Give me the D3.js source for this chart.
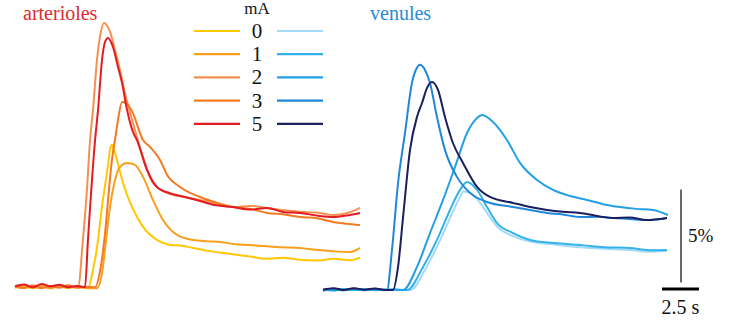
<!DOCTYPE html>
<html>
<head>
<meta charset="utf-8">
<script src="https://cdn.jsdelivr.net/npm/d3@7"></script>
<style>
  html, body { margin: 0; padding: 0; background: #fff; }
  svg { display: block; }
</style>
</head>
<body>
<div id="chart"></div>
<script>
// time in s, response in %
const legendLabels = ["0", "1", "2", "3", "5"];
const arterioleColors = ["#ffc800", "#f8a01c", "#f59050", "#f47a22", "#e31b23"];
const venuleColors = ["#a3daf6", "#35b1ea", "#23a0e6", "#1f86da", "#1b1f5c"];

// arterioles
const art0 = [[0,0.12],[0.6,0.2],[1.2,0.1],[1.8,0.22],[2.4,0.12],[3,0.2],[3.6,0.1],[4.2,0.18],[4.93,0.1],[5.3,1.2],[5.61,2.69],[5.74,3.6],[5.95,4.9],[6.08,5.6],[6.25,6.5],[6.42,7.53],[6.55,7.8],[6.7,7.5],[6.89,6.99],[7.3,5.75],[7.91,4.46],[8.65,3.39],[9.59,2.69],[10.47,2.42],[11.3,2.38],[12.03,2.26],[12.9,2.12],[13.8,2.02],[14.73,1.92],[15.88,1.8],[17.0,1.68],[18.1,1.74],[19.26,1.62],[20.4,1.58],[21.5,1.68],[22.64,1.6],[23.31,1.74]];
const art1 = [[0,0.15],[0.6,0.25],[1.2,0.12],[1.8,0.2],[2.4,0.1],[3,0.22],[3.6,0.12],[4.2,0.2],[4.9,0.1],[5.54,0.1],[5.9,1.0],[6.1,2.3],[6.42,4.46],[6.76,5.91],[7.09,6.61],[7.57,6.83],[8.11,6.72],[8.65,6.08],[9.32,4.84],[10.0,3.76],[10.95,2.96],[12.03,2.69],[13.0,2.62],[13.9,2.58],[14.9,2.46],[15.88,2.42],[16.9,2.36],[18.0,2.3],[19.26,2.26],[20.3,2.16],[21.5,2.08],[22.64,2.04],[23.31,2.26]];
const art2 = [[0,0.18],[0.6,0.1],[1.2,0.25],[1.8,0.15],[2.4,0.22],[3,0.12],[3.6,0.2],[4.0,0.15],[4.26,0.15],[4.59,2.7],[4.86,5.38],[5.07,8.06],[5.27,9.68],[5.54,12.37],[5.74,13.6],[6.01,14.35],[6.42,13.87],[6.76,12.9],[7.09,11.83],[7.43,10.59],[7.97,8.98],[8.65,7.15],[9.32,5.75],[10.27,5.22],[11.4,5.0],[12.5,4.84],[13.5,4.68],[14.73,4.46],[15.9,4.52],[17.03,4.41],[18.2,4.28],[19.26,4.2],[20.4,4.16],[21.49,4.03],[22.4,4.12],[23.31,4.41]];
const art3 = [[0,0.2],[0.6,0.12],[1.2,0.2],[1.8,0.1],[2.4,0.18],[3,0.15],[3.6,0.25],[4.2,0.12],[4.8,0.18],[5.41,0.15],[5.74,1.0],[6.08,3.0],[6.35,5.4],[6.55,7.0],[6.8,8.3],[6.96,9.14],[7.23,10.11],[7.5,10.05],[7.91,9.6],[8.65,8.06],[9.12,7.69],[9.8,6.99],[10.27,6.2],[11.15,5.54],[12.5,5.0],[13.6,4.7],[14.73,4.46],[15.9,4.36],[17.03,4.14],[18.2,4.06],[19.26,3.92],[20.4,3.86],[21.49,3.66],[22.4,3.56],[23.31,3.49]];
const art5 = [[0,0.2],[0.6,0.3],[1.2,0.15],[1.8,0.32],[2.4,0.2],[3,0.28],[3.6,0.15],[4.2,0.22],[4.73,0.15],[4.93,2.7],[5.41,8.06],[5.61,9.68],[5.88,12.37],[6.08,13.33],[6.28,13.55],[6.62,13.06],[6.96,11.99],[7.23,11.13],[7.57,9.68],[7.97,8.5],[8.24,8.06],[8.92,6.45],[9.59,5.54],[10.47,5.2],[11.5,5.0],[12.5,4.78],[13.6,4.55],[14.73,4.46],[15.9,4.32],[17.03,4.41],[18.2,4.18],[19.26,4.14],[20.4,4.0],[21.49,3.92],[22.4,4.0],[23.31,4.14]];

// venules
const ven0 = [[0,0.0],[0.7,0.08],[1.4,-0.02],[2.1,0.06],[2.8,0.0],[3.5,0.08],[4.2,-0.02],[5.0,0.02],[5.9,0.0],[6.9,1.1],[7.8,2.5],[8.6,3.9],[9.26,5.0],[9.5,5.3],[10.0,5.2],[10.6,4.7],[11.2,4.0],[11.9,3.3],[12.84,2.9],[13.99,2.6],[15.6,2.45],[17.36,2.3],[19.0,2.22],[20.74,2.15],[22.0,2.06],[23.24,2.1]];
const ven1 = [[0,0.02],[0.7,-0.04],[1.4,0.06],[2.1,0.0],[2.8,0.06],[3.5,-0.02],[4.2,0.04],[5.0,0.0],[5.68,0.0],[6.76,1.24],[7.7,2.69],[8.58,4.3],[9.26,5.38],[9.73,5.81],[10.41,5.38],[11.08,4.46],[11.76,3.6],[12.84,3.06],[13.99,2.69],[15.6,2.52],[17.36,2.42],[19.0,2.3],[20.74,2.26],[22.0,2.14],[23.24,2.15]];
const ven2 = [[0,0.0],[0.7,0.06],[1.4,0.0],[2.1,0.08],[2.8,-0.02],[3.5,0.06],[4.2,0.0],[4.8,0.04],[5.41,0.0],[6.35,1.24],[7.23,3.06],[8.11,4.84],[8.92,6.61],[9.73,8.44],[10.41,9.25],[10.74,9.41],[11.49,9.03],[12.43,8.06],[13.31,6.83],[14.46,5.91],[15.54,5.38],[16.7,5.05],[17.84,4.84],[19.0,4.6],[20.07,4.46],[21.2,4.36],[22.3,4.3],[23.31,4.03]];
const ven3 = [[0,-0.04],[0.7,0.04],[1.4,-0.02],[2.1,0.06],[2.8,0.0],[3.5,0.04],[4.32,0.0],[4.66,2.15],[5.07,5.75],[5.54,8.44],[6.01,11.13],[6.35,11.94],[6.55,12.1],[6.89,11.83],[7.23,11.13],[7.7,9.3],[8.24,7.53],[9.05,6.08],[9.93,5.22],[11.08,4.73],[12.84,4.46],[14.0,4.3],[15.14,4.14],[16.2,4.06],[17.36,3.92],[18.5,3.94],[19.59,3.87],[20.7,3.82],[21.89,3.76],[23.24,3.87]];
const ven5 = [[0,0.02],[0.7,0.1],[1.4,0.0],[2.1,0.1],[2.8,0.02],[3.5,0.08],[4.2,0.0],[4.73,0.0],[5.07,1.24],[5.41,3.92],[5.88,7.53],[6.35,9.3],[6.69,10.05],[7.03,10.86],[7.36,11.18],[7.77,10.75],[8.24,9.3],[8.78,7.9],[9.46,6.83],[10.41,5.54],[11.28,5.0],[12.84,4.68],[14.0,4.46],[15.14,4.3],[16.2,4.2],[17.36,4.14],[18.5,3.98],[19.59,3.87],[20.7,3.9],[21.89,3.76],[23.24,3.87]];

const arterioles = [art0, art1, art2, art3, art5];
const venules = [ven0, ven1, ven2, ven3, ven5];

const width = 736, height = 324;
const leftX = 15, rightX = 323;
const serif = "Liberation Serif";

const x = d3.scaleLinear().domain([0, 23.31]).range([0, 345]);
const y = d3.scaleLinear().domain([0, 14.35]).range([290, 23]);

const line = d3.line()
  .x(d => x(d[0]))
  .y(d => y(d[1]))
  .curve(d3.curveMonotoneX);

const svg = d3.select("#chart").append("svg")
  .attr("width", width)
  .attr("height", height)
  .attr("viewBox", [0, 0, width, height]);

// traces, drawn so the darker ones end up on top
function drawPanel(offset, data, colors) {
  svg.append("g")
      .attr("transform", `translate(${offset},0)`)
    .selectAll("path")
    .data(data)
    .join("path")
      .attr("fill", "none")
      .attr("stroke", (d, i) => colors[i])
      .attr("stroke-width", 2)
      .attr("stroke-linejoin", "round")
      .attr("d", line);
}
drawPanel(leftX, arterioles, arterioleColors);
drawPanel(rightX, venules, venuleColors);

// panel titles
svg.append("text")
    .attr("x", 23).attr("y", 20)
    .attr("font-family", serif)
    .attr("font-size", 20)
    .attr("fill", "#df2a2e")
    .text("arterioles");
svg.append("text")
    .attr("x", 370).attr("y", 20)
    .attr("font-family", serif)
    .attr("font-size", 20)
    .attr("fill", "#2a8ad6")
    .text("venules");

// legend
const legend = svg.append("g").attr("font-family", serif);
legend.append("text")
    .attr("x", 257).attr("y", 14)
    .attr("text-anchor", "middle")
    .attr("font-size", 17)
    .attr("fill", "#111")
    .text("mA");
const rows = legend.selectAll("g.row")
  .data(legendLabels)
  .join("g")
    .attr("class", "row")
    .attr("transform", (d, i) => `translate(0,${31 + i * 23.2})`);
rows.append("line")
    .attr("x1", 194).attr("x2", 240)
    .attr("stroke", (d, i) => arterioleColors[i])
    .attr("stroke-width", 2.2);
rows.append("line")
    .attr("x1", 277).attr("x2", 323)
    .attr("stroke", (d, i) => venuleColors[i])
    .attr("stroke-width", 2.2);
rows.append("text")
    .attr("x", 257).attr("y", 7)
    .attr("text-anchor", "middle")
    .attr("font-size", 21)
    .attr("fill", "#111")
    .text(d => d);

// scale bars: 5 % and 2.5 s
const barX = 681;
svg.append("line")
    .attr("x1", barX).attr("x2", barX)
    .attr("y1", y(0.4)).attr("y2", y(5.4))
    .attr("stroke", "#444")
    .attr("stroke-width", 1.6);
svg.append("text")
    .attr("x", 688).attr("y", 242)
    .attr("font-family", serif)
    .attr("font-size", 19)
    .attr("fill", "#111")
    .text("5%");
svg.append("line")
    .attr("x1", 662).attr("x2", 662 + x(2.5))
    .attr("y1", 289).attr("y2", 289)
    .attr("stroke", "#000")
    .attr("stroke-width", 3);
svg.append("text")
    .attr("x", 662 + x(2.5) / 2).attr("y", 314)
    .attr("text-anchor", "middle")
    .attr("font-family", serif)
    .attr("font-size", 20)
    .attr("fill", "#111")
    .text("2.5 s");
</script>
</body>
</html>
